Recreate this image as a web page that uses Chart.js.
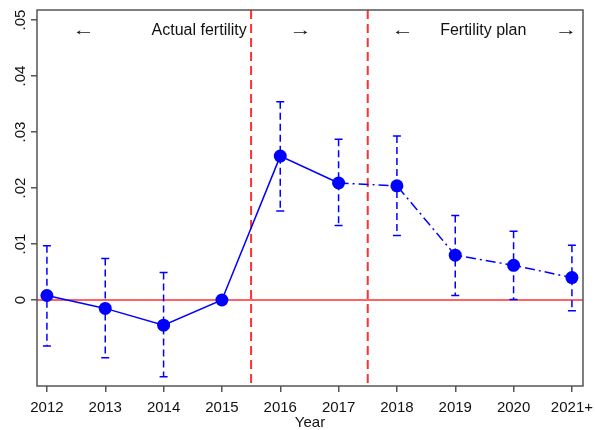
<!DOCTYPE html>
<html>
<head>
<meta charset="utf-8">
<script src="https://cdn.jsdelivr.net/npm/chart.js@4"></script>
<style>
  html, body { margin: 0; padding: 0; background: #fff; }
  #wrap { width: 595px; height: 430px; }
</style>
</head>
<body>
<div id="wrap"><canvas id="chart"></canvas></div>
<script>
const years = ['2012', '2013', '2014', '2015', '2016', '2017', '2018', '2019', '2020', '2021+'];
const estimates = [0.0008, -0.0015, -0.0045, 0, 0.0257, 0.0209, 0.0204, 0.0080, 0.0062, 0.0040];
const ciLow = [-0.0082, -0.0103, -0.0137, null, 0.0159, 0.0133, 0.0115, 0.0008, 0.0001, -0.0019];
const ciHigh = [0.0097, 0.0074, 0.0049, null, 0.0354, 0.0287, 0.0293, 0.0151, 0.0123, 0.0098];
const yTickValues = [0, 0.01, 0.02, 0.03, 0.04, 0.05];
const yTickLabels = ['0', '.01', '.02', '.03', '.04', '.05'];
const periodBreaks = [3.5, 5.5];
const notes = [
  { x: 0.63, text: '\u2190', arrow: true },
  { x: 2.61, text: 'Actual fertility' },
  { x: 4.35, text: '\u2192', arrow: true },
  { x: 6.1, text: '\u2190', arrow: true },
  { x: 7.48, text: 'Fertility plan' },
  { x: 8.9, text: '\u2192', arrow: true }
];
const noteY = 0.0481;

const FONT = '"Liberation Sans", Arial, sans-serif';
const BLUE = '#0000ff';
const RED = '#ff3030';

const decor = {
  id: 'decor',
  beforeDatasetsDraw(chart) {
    const { ctx, chartArea: a, scales: { x, y } } = chart;
    ctx.save();
    // zero line
    ctx.strokeStyle = RED;
    ctx.lineWidth = 1.5;
    ctx.beginPath();
    ctx.moveTo(a.left, y.getPixelForValue(0));
    ctx.lineTo(a.right, y.getPixelForValue(0));
    ctx.stroke();
    // period breaks
    ctx.lineWidth = 2;
    ctx.setLineDash([9, 5]);
    periodBreaks.forEach(b => {
      const px = x.getPixelForValue(b);
      ctx.beginPath();
      ctx.moveTo(px, a.top);
      ctx.lineTo(px, a.bottom);
      ctx.stroke();
    });
    // error bars
    ctx.strokeStyle = BLUE;
    ctx.lineWidth = 1.5;
    estimates.forEach((v, i) => {
      if (ciLow[i] === null) return;
      const px = x.getPixelForValue(i);
      const lo = y.getPixelForValue(ciLow[i]);
      const hi = y.getPixelForValue(ciHigh[i]);
      ctx.setLineDash([7, 4]);
      ctx.beginPath();
      ctx.moveTo(px, hi);
      ctx.lineTo(px, lo);
      ctx.stroke();
      ctx.setLineDash([]);
      ctx.beginPath();
      ctx.moveTo(px - 4, hi);
      ctx.lineTo(px + 4, hi);
      ctx.moveTo(px - 4, lo);
      ctx.lineTo(px + 4, lo);
      ctx.stroke();
    });
    // period notes
    ctx.fillStyle = '#111';
    ctx.font = '16px ' + FONT;
    ctx.textAlign = 'center';
    ctx.textBaseline = 'middle';
    notes.forEach(n => {
      ctx.save();
      ctx.translate(x.getPixelForValue(n.x), y.getPixelForValue(noteY));
      if (n.arrow) ctx.scale(1.4, 1);
      ctx.fillText(n.text, 0, 0);
      ctx.restore();
    });
    ctx.restore();
  },
  afterDraw(chart) {
    const { ctx, chartArea: a, scales: { y } } = chart;
    ctx.save();
    ctx.strokeStyle = '#555';
    ctx.lineWidth = 1.5;
    ctx.strokeRect(a.left, a.top, a.right - a.left, a.bottom - a.top);
    // rotated y labels
    ctx.fillStyle = '#111';
    ctx.font = '15px ' + FONT;
    ctx.textAlign = 'center';
    ctx.textBaseline = 'middle';
    yTickValues.forEach((v, i) => {
      ctx.save();
      ctx.translate(21, y.getPixelForValue(v));
      ctx.rotate(-Math.PI / 2);
      ctx.fillText(yTickLabels[i], 0, 0);
      ctx.restore();
    });
    ctx.restore();
  }
};

new Chart(document.getElementById('chart'), {
  type: 'line',
  data: {
    datasets: [{
      data: estimates.map((v, i) => ({ x: i, y: v })),
      borderColor: BLUE,
      backgroundColor: BLUE,
      borderWidth: 1.5,
      pointRadius: 6.5,
      pointBorderWidth: 0,
      pointBackgroundColor: BLUE,
      tension: 0,
      segment: {
        borderDash: ctx => ctx.p0DataIndex >= 5 ? [10, 4, 2, 4] : undefined
      }
    }]
  },
  options: {
    responsive: true,
    maintainAspectRatio: false,
    animation: false,
    layout: { padding: { top: 10, right: 12, left: 0, bottom: 0 } },
    plugins: {
      legend: { display: false },
      tooltip: { enabled: false }
    },
    scales: {
      x: {
        type: 'linear',
        min: -0.17,
        max: 9.19,
        afterBuildTicks: s => { s.ticks = years.map((_, i) => ({ value: i })); },
        afterFit: s => { s.height = 44; s.paddingLeft = 0; s.paddingRight = 0; },
        grid: { drawOnChartArea: false, drawTicks: true, tickLength: 6, color: '#555', lineWidth: 1.5 },
        border: { display: false },
        ticks: {
          callback: v => years[v],
          color: '#111',
          font: { family: FONT, size: 15 },
          padding: 7,
          maxRotation: 0,
          autoSkip: false
        },
        title: {
          display: true,
          text: 'Year',
          color: '#111',
          font: { family: FONT, size: 15 },
          padding: { top: 0, bottom: -2 }
        }
      },
      y: {
        min: -0.01536,
        max: 0.0518,
        afterBuildTicks: s => { s.ticks = yTickValues.map(v => ({ value: v })); },
        afterFit: s => { s.width = 37; s.paddingTop = 0; s.paddingBottom = 0; },
        grid: { drawOnChartArea: false, drawTicks: true, tickLength: 6, color: '#555', lineWidth: 1.5 },
        border: { display: false },
        ticks: {
          callback: () => '',
          padding: 0
        }
      }
    }
  },
  plugins: [decor]
});
</script>
</body>
</html>
